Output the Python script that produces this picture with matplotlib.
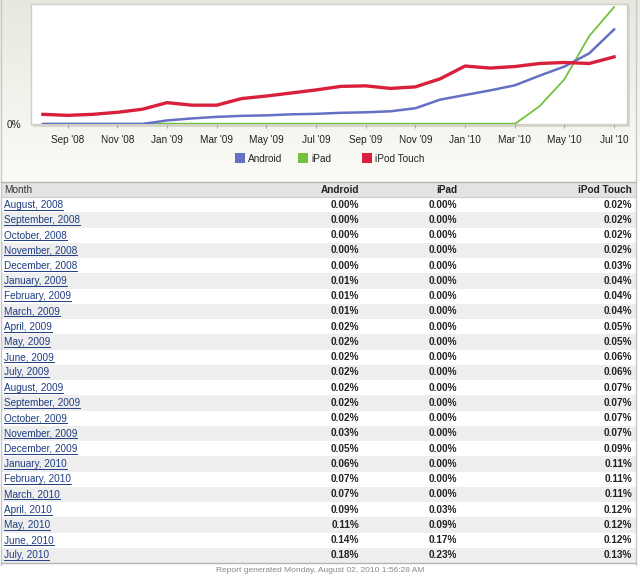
import matplotlib
matplotlib.use("Agg")
import matplotlib.pyplot as plt
import numpy as np
from matplotlib.patches import Rectangle

plt.rcParams['font.family'] = ['Liberation Sans', 'DejaVu Sans']

# data (percent of traffic)
months = ["August, 2008", "September, 2008", "October, 2008", "November, 2008",
          "December, 2008", "January, 2009", "February, 2009", "March, 2009",
          "April, 2009", "May, 2009", "June, 2009", "July, 2009", "August, 2009",
          "September, 2009", "October, 2009", "November, 2009", "December, 2009",
          "January, 2010", "February, 2010", "March, 2010", "April, 2010",
          "May, 2010", "June, 2010", "July, 2010"]
android = [0.000, 0.000, 0.000, 0.000, 0.000, 0.007, 0.011, 0.014, 0.016, 0.017,
           0.019, 0.020, 0.022, 0.023, 0.025, 0.031, 0.048, 0.057, 0.066, 0.076,
           0.095, 0.113, 0.139, 0.186]
ipad = [0.0] * 20 + [0.035, 0.088, 0.173, 0.230]
ipod = [0.019, 0.017, 0.019, 0.023, 0.029, 0.042, 0.037, 0.037, 0.050, 0.055,
        0.061, 0.067, 0.074, 0.075, 0.070, 0.073, 0.089, 0.114, 0.110, 0.113,
        0.119, 0.121, 0.119, 0.132]

# values as printed in the report table
android_tbl = ["0.00%", "0.00%", "0.00%", "0.00%", "0.00%", "0.01%", "0.01%", "0.01%",
               "0.02%", "0.02%", "0.02%", "0.02%", "0.02%", "0.02%", "0.02%", "0.03%",
               "0.05%", "0.06%", "0.07%", "0.07%", "0.09%", "0.11%", "0.14%", "0.18%"]
ipad_tbl = ["0.00%"] * 20 + ["0.03%", "0.09%", "0.17%", "0.23%"]
ipod_tbl = ["0.02%", "0.02%", "0.02%", "0.02%", "0.03%", "0.04%", "0.04%", "0.04%",
            "0.05%", "0.05%", "0.06%", "0.06%", "0.07%", "0.07%", "0.07%", "0.07%",
            "0.09%", "0.11%", "0.11%", "0.11%", "0.12%", "0.12%", "0.12%", "0.13%"]
tick_labels = ["Sep '08", "Nov '08", "Jan '09", "Mar '09", "May '09", "Jul '09",
               "Sep '09", "Nov '09", "Jan '10", "Mar '10", "May '10", "Jul '10"]
series = ["Android", "iPad", "iPod Touch"]
colors = ["#6570c4", "#72c23e", "#d9203a"]

W, H = 640, 578
fig = plt.figure(figsize=(W / 100, H / 100), dpi=100)

# background canvas in pixel coordinates
bg = fig.add_axes([0, 0, 1, 1])
bg.set_xlim(0, W)
bg.set_ylim(H, 0)
bg.axis('off')

# beige gradient behind the chart
grad = np.linspace(0, 1, 100).reshape(-1, 1)
bg.imshow(grad, extent=[0, W, 182, 0], aspect='auto',
          cmap=matplotlib.colors.LinearSegmentedColormap.from_list('g', ['#e9e8df', '#fbfbf7']),
          zorder=0)
bg.add_patch(Rectangle((33, 6), 597, 121, fc='#d8d6cc', ec='none', zorder=1))
bg.plot([1, 1], [0, 565], color='#c8c8c8', lw=1)
bg.plot([636, 636], [0, 565], color='#c8c8c8', lw=1)

# legend
leg_x = [235, 298, 362]
for lx, name, c in zip(leg_x, series, colors):
    bg.add_patch(Rectangle((lx, 153), 10, 10, fc=c, ec='none'))
    bg.text(lx + 13, 158.5, name, fontsize=7.2, va='center', ha='left', color='#222222')

# table
bg.add_patch(Rectangle((1, 182), 635, 15, fc='#e3e3e3', ec='none'))
bg.plot([1, 636], [182, 182], color='#b5b5b5', lw=1)
bg.plot([1, 636], [197, 197], color='#cfcfcf', lw=0.8)
bg.text(4, 190, "Month", fontsize=7.2, va='center', ha='left', color='#333333')
col_x = [359, 457, 632]
for cx, name in zip(col_x, series):
    bg.text(cx, 190, name, fontsize=7.2, va='center', ha='right',
            fontweight='bold', color='#222222')

row_h = 15.25
links = []
for i, m in enumerate(months):
    top = 197 + i * row_h
    yc = top + row_h / 2
    if i % 2 == 1:
        bg.add_patch(Rectangle((1, top), 635, row_h, fc='#eeeeee', ec='none'))
    links.append((bg.text(4, yc, m, fontsize=7.2, va='center', ha='left', color='#1f3e82'), yc))
    for cx, vals in zip(col_x, [android_tbl, ipad_tbl, ipod_tbl]):
        bg.text(cx, yc, vals[i], fontsize=7.2, va='center', ha='right',
                fontweight='bold', color='#222222')
bg.plot([1, 636], [563, 563], color='#b5b5b5', lw=1)

bg.text(320, 570.5, "Report generated Monday, August 02, 2010 1:56:28 AM",
        fontsize=6, va='center', ha='center', color='#888888')

# underline the month links, using the drawn text widths
fig.canvas.draw()
rend = fig.canvas.get_renderer()
for t, yc in links:
    bb = t.get_window_extent(rend)
    bg.plot([bb.x0, bb.x1], [yc + 5, yc + 5], color='#1f3e82', lw=0.7)

# line chart
ax = fig.add_axes([31 / W, 1 - 124 / H, (627 - 31) / W, (124 - 4) / H])
ax.set_facecolor('white')
x = np.arange(len(months))
ax.plot(x, ipad, color=colors[1], lw=1.3, zorder=3)
ax.plot(x[:20], ipad[:20], color=colors[1], lw=2.5, zorder=3, solid_capstyle='butt')
ax.plot(x, android, color=colors[0], lw=1.8, zorder=4)
ax.plot(x, ipod, color=colors[2], lw=2.4, zorder=5)
ax.set_xlim(-0.48, 23.52)
ax.set_ylim(0, 0.236)
ax.set_xticks(x[1::2])
ax.set_xticklabels(tick_labels, fontsize=7.2, color='#222222')
ax.tick_params(axis='x', length=3, color='#aaaaaa', pad=5)
ax.set_yticks([0])
ax.set_yticklabels(["0%"], fontsize=7.2, color='#222222')
ax.tick_params(axis='y', length=0, pad=7)
for s in ax.spines.values():
    s.set_color('#d0cec4')
    s.set_linewidth(1)

fig.savefig("out.png", dpi=100)
